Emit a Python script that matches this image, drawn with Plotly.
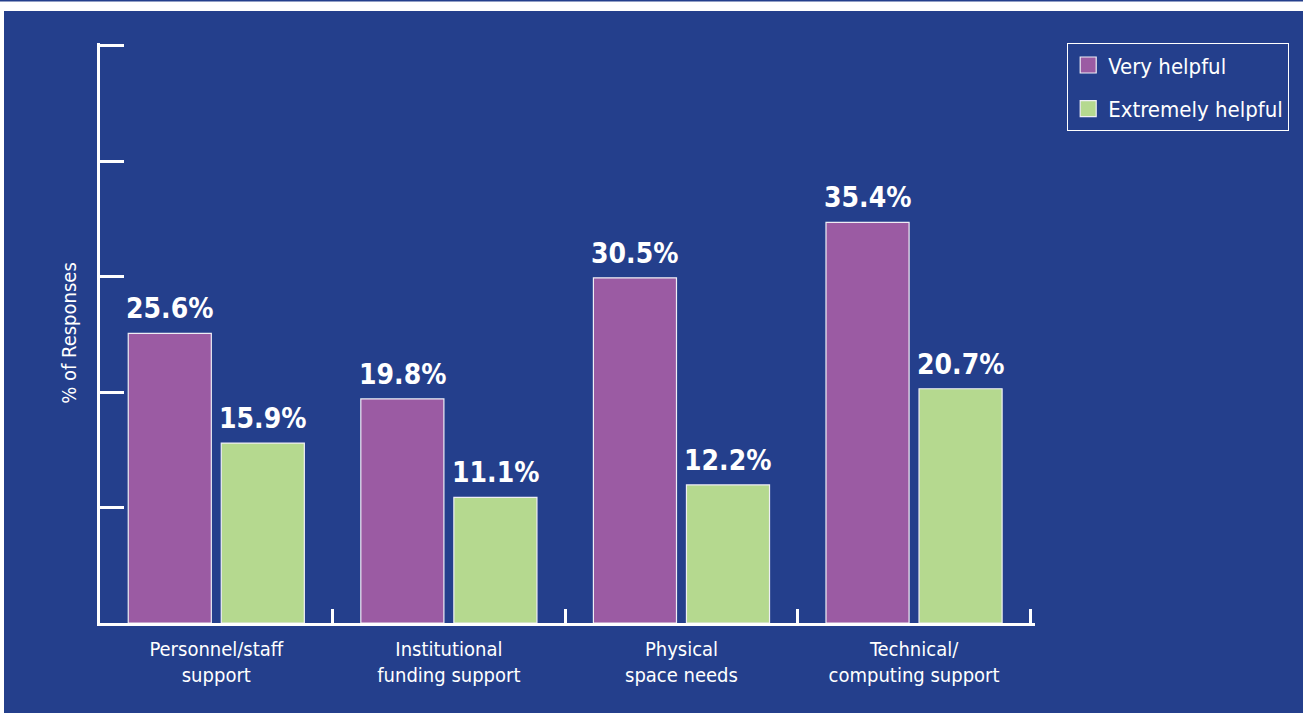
import plotly.graph_objects as go

categories = ["Personnel/staff<br>support", "Institutional<br>funding support",
              "Physical<br>space needs", "Technical/<br>computing support"]
very_helpful = [25.6, 19.8, 30.5, 35.4]
extremely_helpful = [15.9, 11.1, 12.2, 20.7]
series_names = ["Very helpful", "Extremely helpful"]
y_range = [0, 51.25]
y_ticks = [0, 10.2, 20.4, 30.6, 40.8, 51]

BG = "#243f8c"
PURPLE = "#9b5ba3"
GREEN = "#b5d98f"
FONT = "DejaVu Sans Condensed, Liberation Sans Narrow, sans-serif"

fig = go.Figure()
for name, vals, col in [(series_names[0], very_helpful, PURPLE),
                        (series_names[1], extremely_helpful, GREEN)]:
    fig.add_trace(go.Bar(
        x=categories, y=vals, name=name, showlegend=False,
        marker=dict(color=col, line=dict(color="#eeeef5", width=1.2)),
    ))
    # legend entry with a larger square swatch
    fig.add_trace(go.Scatter(
        x=[None], y=[None], name=name, mode="markers", legendgroup=name,
        marker=dict(symbol="square", size=16, color=col,
                    line=dict(color="#eeeef5", width=1.2)),
    ))

W, H, L, R, T, B = 1303, 713, 100, 268, 43, 90
plot_w = W - L - R
plot_h = H - T - B
n = len(categories)
x_range = [-0.5, n - 0.5 + 0.02]
cat_w = plot_w / (x_range[1] - x_range[0])
bargap, bargroupgap = 0.2, 0.107
slot = cat_w * (1 - bargap) / 2

# value labels above bars
annotations = []
for i, cat in enumerate(categories):
    for j, vals in enumerate([very_helpful, extremely_helpful]):
        annotations.append(dict(
            x=cat, y=vals[i], xref="x", yref="y", text=f"{vals[i]:.1f}%",
            showarrow=False, yanchor="bottom", xanchor="center",
            xshift=(j - 0.5) * slot, yshift=6,
            font=dict(family=FONT, size=28, color="white", weight="bold"),
        ))

def px_x(p):
    return (p - L) / plot_w
def px_y(p):
    return (H - B - p) / plot_h

# decorative frame (white strip on top and left of the blue panel)
shapes = [
    dict(type="rect", xref="paper", yref="paper", layer="below",
         x0=px_x(-5), x1=px_x(W + 5), y0=px_y(11), y1=px_y(-5),
         fillcolor="white", line=dict(width=0)),
    dict(type="rect", xref="paper", yref="paper", layer="below",
         x0=px_x(-5), x1=px_x(4), y0=px_y(H + 5), y1=px_y(11),
         fillcolor="white", line=dict(width=0)),
    dict(type="rect", xref="paper", yref="paper", layer="below",
         x0=px_x(-5), x1=px_x(W + 5), y0=px_y(1.6), y1=px_y(-5),
         fillcolor=BG, line=dict(width=0)),
]

fig.update_layout(
    width=W, height=H,
    margin=dict(l=L, r=R, t=T, b=B, autoexpand=False),
    paper_bgcolor=BG, plot_bgcolor=BG,
    barmode="group", bargap=bargap, bargroupgap=bargroupgap,
    font=dict(family=FONT, color="white", size=20),
    showlegend=True,
    legend=dict(
        x=px_x(1067), y=1, xanchor="left", yanchor="top",
        bgcolor=BG, bordercolor="white", borderwidth=1.2,
        font=dict(family=FONT, size=22, color="white"),
        traceorder="grouped", tracegroupgap=12, itemwidth=30,
    ),
    xaxis=dict(
        range=x_range,
        showline=True, linecolor="white", linewidth=2.5,
        ticks="inside", tickson="boundaries", ticklen=14, tickwidth=2.5,
        tickcolor="white", showgrid=False, zeroline=False,
        tickfont=dict(family=FONT, size=20, color="white"),
        ticklabelstandoff=6,
    ),
    yaxis=dict(
        range=y_range, tickvals=y_ticks, showticklabels=False,
        showline=True, linecolor="white", linewidth=2.5,
        ticks="inside", ticklen=24, tickwidth=2.5, tickcolor="white",
        showgrid=False, zeroline=False,
        title=dict(text="% of Responses", standoff=16,
                   font=dict(family=FONT, size=20, color="white")),
    ),
    annotations=annotations, shapes=shapes,
)

fig.write_html("out.html")
